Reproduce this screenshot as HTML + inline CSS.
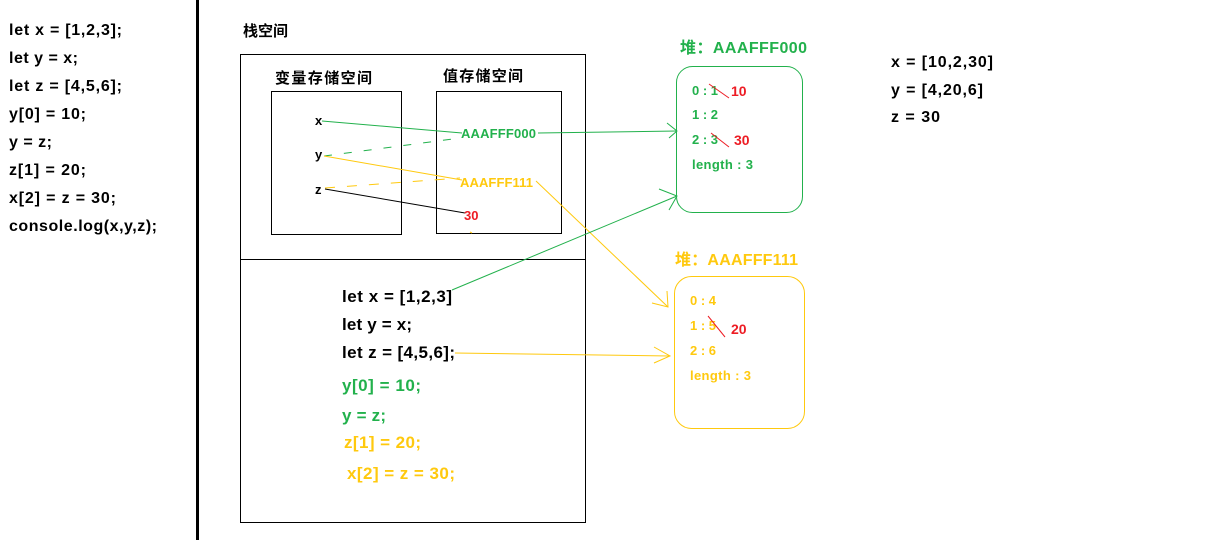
<!DOCTYPE html>
<html><head><meta charset="utf-8"><style>
html,body{margin:0;padding:0;background:#fff;}
svg{display:block;}
text{font-family:"Liberation Sans","Noto Sans CJK SC",sans-serif;font-weight:bold;}
</style></head><body>
<svg width="1218" height="540" viewBox="0 0 1218 540" xmlns="http://www.w3.org/2000/svg">
<rect width="1218" height="540" fill="#fff"/>
<!-- left code -->
<g font-size="16" fill="#000">
<text x="9" y="35" textLength="113">let x = [1,2,3];</text>
<text x="9" y="63" textLength="69">let y = x;</text>
<text x="9" y="91" textLength="113">let z = [4,5,6];</text>
<text x="9" y="119" textLength="77">y[0] = 10;</text>
<text x="9" y="147" textLength="43">y = z;</text>
<text x="9" y="175" textLength="77">z[1] = 20;</text>
<text x="9" y="203" textLength="107">x[2] = z = 30;</text>
<text x="9" y="231" textLength="148">console.log(x,y,z);</text>
</g>
<rect x="196" y="0" width="3" height="540" fill="#000"/>
<text x="243" y="36" font-size="15">栈空间</text>
<rect x="240.5" y="54.5" width="345" height="468" fill="none" stroke="#000"/>
<line x1="240" y1="259.5" x2="585" y2="259.5" stroke="#000"/>
<rect x="271.5" y="91.5" width="130" height="143" fill="none" stroke="#000"/>
<rect x="436.5" y="91.5" width="125" height="142" fill="none" stroke="#000"/>
<text x="275" y="83" font-size="15" textLength="97">变量存储空间</text>
<text x="443" y="81" font-size="15" textLength="80">值存储空间</text>
<g font-size="13" fill="#000">
<text x="315" y="125">x</text>
<text x="315" y="159">y</text>
<text x="315" y="194">z</text>
</g>
<!-- connectors in stack -->
<line x1="322" y1="121" x2="462" y2="133" stroke="#22b14c"/>
<line x1="324" y1="156" x2="460" y2="138" stroke="#22b14c" stroke-dasharray="8,12"/>
<line x1="324" y1="156" x2="462" y2="180" stroke="#ffc90e"/>
<line x1="325" y1="188" x2="460" y2="178" stroke="#ffc90e" stroke-dasharray="10,12"/>
<line x1="325" y1="189" x2="465" y2="213" stroke="#000"/>
<text x="461" y="138" font-size="13" fill="#22b14c" textLength="75">AAAFFF000</text>
<text x="460" y="187" font-size="13" fill="#ffc90e" textLength="73">AAAFFF111</text>
<text x="464" y="220" font-size="13" fill="#ed1c24">30</text>
<line x1="470" y1="232" x2="472" y2="233" stroke="#ffc90e"/>
<!-- arrows -->
<line x1="538" y1="133" x2="677" y2="131" stroke="#22b14c"/>
<polyline points="667,123 677,131 669,138" fill="none" stroke="#22b14c"/>
<line x1="536" y1="181" x2="668" y2="307" stroke="#ffc90e"/>
<polyline points="652,303 668,307 667,291" fill="none" stroke="#ffc90e"/>
<line x1="452" y1="290" x2="677" y2="196" stroke="#22b14c"/>
<polyline points="659,189 677,196 669,210" fill="none" stroke="#22b14c"/>
<line x1="455" y1="353" x2="670" y2="356" stroke="#ffc90e"/>
<polyline points="654,347 670,356 654,363" fill="none" stroke="#ffc90e"/>
<!-- lower code -->
<g font-size="17">
<text x="342" y="302" fill="#000" textLength="110">let x = [1,2,3]</text>
<text x="342" y="330" fill="#000" textLength="70">let y = x;</text>
<text x="342" y="358" fill="#000" textLength="113">let z = [4,5,6];</text>
<text x="342" y="391" fill="#22b14c" textLength="79">y[0] = 10;</text>
<text x="342" y="421" fill="#22b14c" textLength="44">y = z;</text>
<text x="344" y="448" fill="#ffc90e" textLength="77">z[1] = 20;</text>
<text x="347" y="479" fill="#ffc90e" textLength="108">x[2] = z = 30;</text>
</g>
<!-- heap 1 -->
<text x="680" y="53" font-size="16" fill="#22b14c" textLength="127">堆：AAAFFF000</text>
<rect x="676.5" y="66.5" width="126" height="146" rx="16" fill="none" stroke="#22b14c"/>
<g font-size="13" fill="#22b14c">
<text x="692" y="95">0 : 1</text>
<text x="692" y="119">1 : 2</text>
<text x="692" y="144">2 : 3</text>
<text x="692" y="169" textLength="61">length : 3</text>
</g>
<g font-size="14" fill="#ed1c24">
<text x="731" y="96">10</text>
<text x="734" y="145">30</text>
</g>
<line x1="709" y1="84" x2="729" y2="98" stroke="#ed1c24"/>
<line x1="711" y1="133" x2="729" y2="147" stroke="#ed1c24"/>
<!-- heap 2 -->
<text x="675" y="265" font-size="16" fill="#ffc90e" textLength="123">堆：AAAFFF111</text>
<rect x="674.5" y="276.5" width="130" height="152" rx="17" fill="none" stroke="#ffc90e"/>
<g font-size="13" fill="#ffc90e">
<text x="690" y="305">0 : 4</text>
<text x="690" y="330">1 : 5</text>
<text x="690" y="355">2 : 6</text>
<text x="690" y="380" textLength="61">length : 3</text>
</g>
<text x="731" y="334" font-size="14" fill="#ed1c24">20</text>
<line x1="708" y1="316" x2="725" y2="337" stroke="#ed1c24"/>
<!-- results -->
<g font-size="16" fill="#000">
<text x="891" y="67" textLength="102">x = [10,2,30]</text>
<text x="891" y="95" textLength="92">y = [4,20,6]</text>
<text x="891" y="122" textLength="49">z = 30</text>
</g>
</svg>
</body></html>
